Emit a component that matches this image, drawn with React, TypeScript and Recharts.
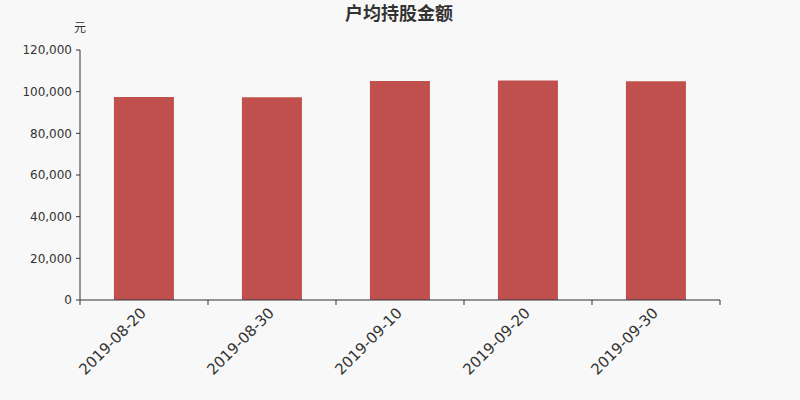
import React from 'react';
import { BarChart, Bar, XAxis, YAxis } from 'recharts';

const categories = ['2019-08-20', '2019-08-30', '2019-09-10', '2019-09-20', '2019-09-30'];
const values = [97400, 97300, 105100, 105400, 105000];
const yTicks = [0, 20000, 40000, 60000, 80000, 100000, 120000];

const data = categories.map((c, i) => ({ date: c, value: values[i] }));

const W = 800;
const H = 400;
const M = { top: 50, right: 80, left: 0, bottom: 0 };
const Y_W = 80;
const BAND = (W - M.left - M.right - Y_W) / categories.length;
const FONT = '"DejaVu Sans", "Noto Sans CJK SC", sans-serif';

const XTick = (props: any) => {
  const { x, y, payload, index } = props;
  const axisY = y - 8;
  return (
    <g>
      <line x1={x - BAND / 2} y1={axisY} x2={x - BAND / 2} y2={axisY + 5} stroke="#333" />
      {index === categories.length - 1 && (
        <line x1={x + BAND / 2} y1={axisY} x2={x + BAND / 2} y2={axisY + 5} stroke="#333" />
      )}
      <text
        x={x + 3}
        y={axisY + 14}
        textAnchor="end"
        fontSize={15}
        fill="#333"
        fontFamily={FONT}
        transform={`rotate(-45, ${x + 3}, ${axisY + 14})`}
      >
        {payload.value}
      </text>
    </g>
  );
};

export default function App() {
  return (
    <div style={{ position: 'absolute', left: 0, top: 0, width: W, height: H, background: '#f8f8f8' }}>
      <svg width={W} height={H} style={{ position: 'absolute', left: 0, top: 0, pointerEvents: 'none' }}>
        <text x={399} y={20} textAnchor="middle" fontSize={18} fontWeight="bold" fill="#333" fontFamily={FONT}>
          户均持股金额
        </text>
        <text x={80} y={32} textAnchor="middle" fontSize={12} fill="#333" fontFamily={FONT}>
          元
        </text>
      </svg>
      <BarChart width={W} height={H} data={data} margin={M} barCategoryGap="26.5%">
        <XAxis
          dataKey="date"
          height={100}
          axisLine={{ stroke: '#333' }}
          tickLine={false}
          tick={<XTick />}
          interval={0}
        />
        <YAxis
          width={Y_W}
          domain={[0, 120000]}
          ticks={yTicks}
          interval={0}
          tickSize={4}
          tickMargin={4}
          axisLine={{ stroke: '#333' }}
          tickLine={{ stroke: '#333' }}
          tick={{ fontSize: 12, fill: '#333', fontFamily: FONT }}
          tickFormatter={(v: number) => v.toLocaleString('en-US')}
        />
        <Bar dataKey="value" fill="#c0504d" isAnimationActive={false} />
      </BarChart>
    </div>
  );
}
